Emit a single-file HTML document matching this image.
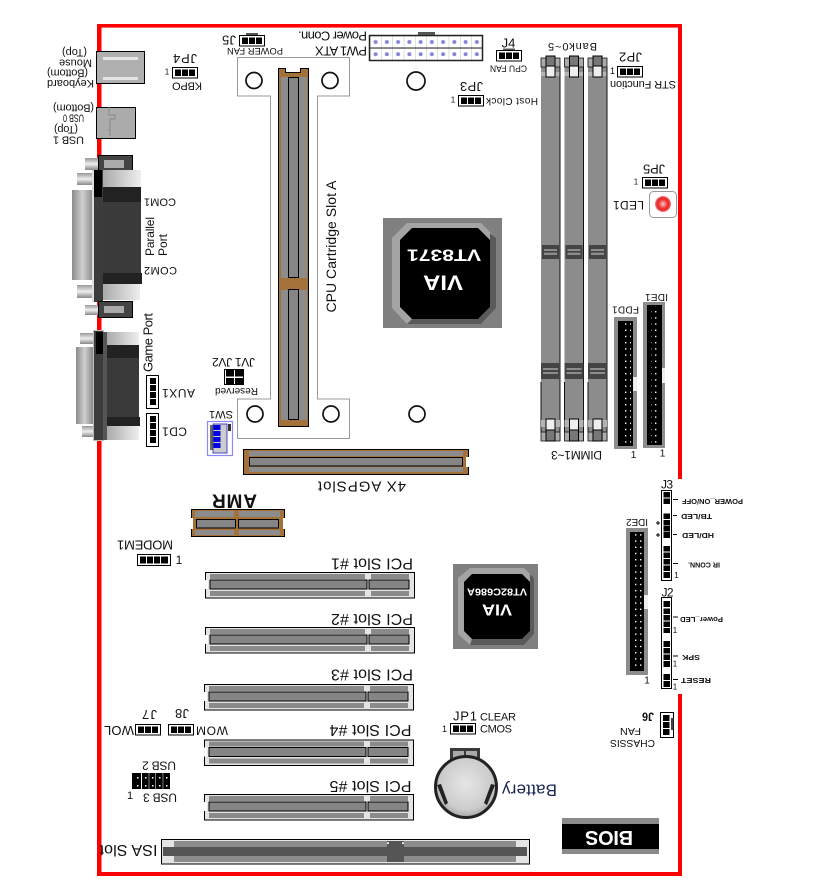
<!DOCTYPE html>
<html><head><meta charset="utf-8"><style>
html,body{margin:0;padding:0;background:#fff}
svg{display:block}
text{font-family:"Liberation Sans",sans-serif;text-anchor:middle;dominant-baseline:central;fill:#111;font-size:10px}
.f7{font-size:7px}.f8{font-size:8px}.f9{font-size:9px}.f10{font-size:10px}.f11{font-size:11px}.f12{font-size:12px}.f13{font-size:13px}.f14{font-size:14px}.f15{font-size:15px}.f16{font-size:16px}
.b{font-weight:bold}
</style></head><body>
<svg width="829" height="888" viewBox="0 0 829 888" xmlns="http://www.w3.org/2000/svg">
<defs>
<pattern id="dots" patternUnits="userSpaceOnUse" width="5" height="6.2"><rect x="0" y="1" width="1.4" height="1.4" fill="#fff"/></pattern>
<pattern id="pw" patternUnits="userSpaceOnUse" x="370" y="36" width="11.25" height="12.2"><rect width="11.25" height="12.2" fill="#fff"/><circle cx="5.6" cy="6" r="2" fill="#8585d8"/><path d="M0 0V12.2M0 0H11.25" stroke="#999" stroke-width=".6"/></pattern>
<linearGradient id="sh" x1="0" x2="1" y1="0" y2="0"><stop offset="0" stop-color="#8a8a8a"/><stop offset=".5" stop-color="#d0d0d0"/><stop offset="1" stop-color="#8a8a8a"/></linearGradient>
<linearGradient id="sc" x1="0" x2="0" y1="0" y2="1"><stop offset="0" stop-color="#999"/><stop offset=".5" stop-color="#eee"/><stop offset="1" stop-color="#888"/></linearGradient>
<linearGradient id="lt" x1="0" x2="1" y1="0" y2="0"><stop offset="0" stop-color="#aaa"/><stop offset="1" stop-color="#eee"/></linearGradient>
<radialGradient id="bat" cx=".5" cy=".45" r=".6"><stop offset="0" stop-color="#e6e6e6"/><stop offset=".7" stop-color="#ccc"/><stop offset="1" stop-color="#999"/></radialGradient>
<radialGradient id="led" cx=".5" cy=".5" r=".5"><stop offset="0" stop-color="#ffc8c8"/><stop offset=".45" stop-color="#f05050"/><stop offset=".7" stop-color="#e82020"/><stop offset="1" stop-color="#f08080"/></radialGradient>
<g id="j3"><rect x=".5" y=".5" width="25" height="10.5" fill="#fff" stroke="#000"/><rect x="3" y="2.5" width="6" height="6.5"/><rect x="10" y="2.5" width="6" height="6.5"/><rect x="17" y="2.5" width="6" height="6.5"/></g>
<g id="pci"><rect x=".5" y=".5" width="209" height="25.5" fill="#e4e4e4" stroke="#000"/><rect x="5" y="2" width="155" height="5" fill="#8a8a8a"/><rect x="166" y="2" width="38" height="5" fill="#8a8a8a"/><rect x="5" y="19" width="155" height="5" fill="#8a8a8a"/><rect x="166" y="19" width="38" height="5" fill="#8a8a8a"/><rect x="5" y="8" width="157" height="9" fill="#858585" stroke="#000"/><rect x="164" y="8" width="40" height="9" fill="#858585" stroke="#000"/><rect x="0" y="8" width="3" height="9" fill="#fff"/></g>
<g id="dimm"><rect x="0" y="11" width="19" height="374" fill="#8c8c8c"/><rect x="0" y="16" width="19" height="4" fill="#b4b4b4"/><path d="M19 11V385" stroke="#111" stroke-width="1"/><rect x="0" y="2" width="19" height="9" fill="#aaa" stroke="#111" stroke-width=".8"/><rect x="5" y="0" width="9" height="10" fill="#777" stroke="#000"/><rect x="5" y="10" width="9" height="11" fill="#eee" stroke="#000"/><g fill="#444"><rect x="1" y="189" width="17" height="4"/><rect x="1" y="199" width="17" height="4"/><rect x="1" y="193" width="2" height="6"/><rect x="16" y="193" width="2" height="6"/><rect x="3" y="195" width="14" height="1.6"/></g><g fill="#444"><rect x="1" y="307" width="17" height="5"/><rect x="1" y="318" width="17" height="5"/><rect x="0" y="307" width="2" height="16"/><rect x="17" y="307" width="2" height="16"/><rect x="2" y="314" width="15" height="2"/></g><path d="M0 326V376M19 326V376" stroke="#111"/><rect x="0" y="364" width="19" height="7" fill="#b4b4b4"/><rect x="0" y="376" width="19" height="9" fill="#aaa" stroke="#111" stroke-width=".8"/><rect x="5" y="363" width="9" height="11" fill="#eee" stroke="#000"/><rect x="5" y="374" width="9" height="11" fill="#777" stroke="#000"/></g>
</defs>
<rect width="829" height="888" fill="#fff"/>

<!-- board outline -->
<g fill="#f00">
<rect x="97" y="24" width="585" height="3.6"/>
<rect x="97" y="872" width="585" height="4"/>
<rect x="97" y="24" width="4.5" height="852"/>
<rect x="678" y="24" width="4" height="455"/>
<rect x="678" y="694" width="4" height="182"/>
</g>

<!-- keyboard / usb -->
<rect x="96.500" y="51.500" width="48" height="32" fill="#b0b0b0" stroke="#000"/>
<rect x="103" y="57" width="35" height="3" fill="#e4e4e4"/><rect x="103" y="77" width="35" height="3" fill="#e4e4e4"/>
<rect x="96.500" y="107.500" width="39" height="31" fill="#ababab" stroke="#000"/>
<path d="M109 107V115H115V119H110V130H108M108 130H110V136" fill="none" stroke="#888"/>

<text class="f11" transform="translate(70.500 83)rotate(180)" textLength="47">Keyboard</text>
<text class="f11" transform="translate(67.500 72.500)rotate(180)" textLength="41">(Bottom)</text>
<text class="f11" transform="translate(75.500 62.500)rotate(180)" textLength="33">Mouse</text>
<text class="f11" transform="translate(74.500 52)rotate(180)" textLength="25">(Top)</text>
<text class="f11" transform="translate(73.500 107.500)rotate(180)" textLength="41">(Bottom)</text>
<text class="f11" transform="translate(73.500 117.500)rotate(180)" textLength="21" lengthAdjust="spacingAndGlyphs">USB 0</text>
<text class="f11" transform="translate(66 129)rotate(180)" textLength="24">(Top)</text>
<text class="f11" transform="translate(68.500 139.500)rotate(180)" textLength="31">USB 1</text>

<!-- COM connector -->
<rect x="72" y="190" width="21" height="90" fill="url(#sh)"/>
<rect x="85" y="158" width="13" height="12" fill="url(#sc)"/>
<rect x="77" y="173" width="15" height="12" fill="url(#sc)"/>
<rect x="98.500" y="155.500" width="34" height="17" fill="#444" stroke="#000"/>
<rect x="104" y="160" width="20" height="8" fill="#aaa"/>
<rect x="92" y="170" width="11" height="132" fill="#3c3c3c"/>
<rect x="92" y="170" width="2" height="132" fill="#ddd"/>
<rect x="94" y="170" width="8" height="27" fill="#000"/>
<rect x="103" y="170" width="38" height="17" fill="url(#lt)"/>
<rect x="103" y="187" width="38" height="15" fill="#222"/>
<rect x="103" y="202" width="38" height="71" fill="#3a3a3a"/>
<rect x="103" y="273" width="39" height="11" fill="#222"/>
<rect x="103" y="284" width="37" height="16" fill="url(#lt)"/>
<rect x="77" y="285" width="15" height="13" fill="url(#sc)"/>
<rect x="85" y="305" width="13" height="10" fill="url(#sc)"/>
<rect x="98.500" y="301.500" width="34" height="16" fill="#444" stroke="#000"/>
<rect x="104" y="306" width="20" height="7" fill="#aaa"/>

<text class="f11" transform="translate(160 201.500)rotate(180)" textLength="32">COM1</text>
<text class="f11" transform="translate(160.500 270)rotate(180)" textLength="33">COM2</text>
<text class="f12" transform="translate(150 236.500)rotate(-90)" textLength="39">Parallel</text>
<text class="f12" transform="translate(163 245)rotate(-90)" textLength="22">Port</text>

<!-- Game port -->
<rect x="76" y="347" width="17" height="77" fill="url(#sh)"/>
<rect x="80" y="333" width="13" height="11" fill="url(#sc)"/>
<rect x="82" y="426" width="11" height="11" fill="url(#sc)"/>
<rect x="93.500" y="330.500" width="10" height="110" fill="#3c3c3c" stroke="#bbb"/>
<rect x="96" y="332" width="7" height="22" fill="#000"/>
<rect x="107" y="332" width="32" height="13" fill="url(#lt)"/>
<rect x="103" y="332" width="4" height="108" fill="#555"/>
<rect x="107" y="345" width="32" height="13" fill="#222"/>
<rect x="107" y="358" width="32" height="59" fill="#3a3a3a"/>
<rect x="107" y="417" width="33" height="9" fill="#222"/>
<rect x="107" y="426" width="32" height="14" fill="url(#lt)"/>
<text class="f13" transform="translate(148 342.500)rotate(-90)" textLength="59">Game Port</text>

<!-- AUX1 CD1 -->
<rect x="146.500" y="375.500" width="12" height="33" fill="#fff" stroke="#000"/>
<g fill="#000"><rect x="150" y="378" width="6" height="6"/><rect x="150" y="385" width="6" height="6"/><rect x="150" y="392" width="6" height="6"/><rect x="150" y="399" width="6" height="6"/></g>
<rect x="146.500" y="413.500" width="12" height="33" fill="#fff" stroke="#000"/>
<g fill="#000"><rect x="150" y="416" width="6" height="6"/><rect x="150" y="423" width="6" height="6"/><rect x="150" y="430" width="6" height="6"/><rect x="150" y="437" width="6" height="6"/></g>
<text class="f12" transform="translate(178.500 393)rotate(180)" textLength="33">AUX1</text>
<text class="f12" transform="translate(174.500 431.500)rotate(180)" textLength="25">CD1</text>

<!-- CPU bracket -->
<path d="M237.500 57.500H349.500V96H317.500V399H349.500V438.500H237.500V399H270.500V96H237.500Z" fill="#fff" stroke="#999" stroke-width="1"/>
<g fill="none" stroke="#111" stroke-width="1.700"><circle cx="254" cy="80.500" r="8"/><circle cx="330" cy="80.500" r="8"/><circle cx="416" cy="81" r="9"/><circle cx="255" cy="414" r="8"/><circle cx="331" cy="414" r="8"/><circle cx="417" cy="414" r="8"/></g>
<!-- CPU slot -->
<path d="M278.500 68.500H285.500V72.500H300.500V68.500H308.500V426.500H278.500Z" fill="#a4713a" stroke="#000"/>
<rect x="281" y="77" width="26" height="343" fill="#8c8c8c"/>
<rect x="281" y="278" width="26" height="12" fill="#a4713a"/>
<rect x="288.500" y="77.500" width="10" height="200" fill="#858585" stroke="#000"/>
<rect x="288.500" y="289.500" width="10" height="130" fill="#858585" stroke="#000"/>
<text class="f14" transform="translate(331 246.500)rotate(-90)" textLength="132">CPU Cartridge Slot A</text>

<!-- J5 -->
<use href="#j3" x="239" y="35"/><rect x="246" y="33" width="12" height="2" fill="#555"/>
<text class="f13" transform="translate(229 40)rotate(180)" textLength="14">J5</text>
<text class="f9" transform="translate(255 51)rotate(180)" textLength="56" lengthAdjust="spacingAndGlyphs">POWER FAN</text>
<!-- JP4 -->
<use href="#j3" x="172" y="67"/>
<text class="f8" x="167" y="72">1</text>
<text class="f13" transform="translate(185 58.500)rotate(180)" textLength="24">JP4</text>
<text class="f11" transform="translate(187 85.500)rotate(180)" textLength="30">KBPO</text>

<!-- PW1 -->
<rect x="369.500" y="35.500" width="113" height="25" fill="url(#pw)" stroke="#222" stroke-width="1.500"/>
<path d="M370 48H483" stroke="#222"/>
<rect x="418" y="32" width="17" height="3" fill="#555"/>
<text class="f13" transform="translate(332.500 36)rotate(180)" textLength="69">Power Conn.</text>
<text class="f13" transform="translate(341 51)rotate(180)" textLength="52">PW1 ATX</text>

<!-- JP3 -->
<use href="#j3" x="458" y="95"/>
<text class="f8" x="453" y="100">1</text>
<text class="f13" transform="translate(471.500 86.500)rotate(180)" textLength="23">JP3</text>
<text class="f10" transform="translate(512 100.500)rotate(180)" textLength="52">Host Clock</text>
<!-- J4 -->
<use href="#j3" x="496" y="50"/><rect x="503" y="48.500" width="12" height="1.500" fill="#555"/>
<text class="f13" x="508.500" y="43">J4</text>
<text class="f9" transform="translate(508.500 68.500)rotate(180)" textLength="37" lengthAdjust="spacingAndGlyphs">CPU FAN</text>

<!-- DIMM -->
<text class="f11" transform="translate(572.500 46)rotate(180)" textLength="49">Bank0~5</text>
<use href="#dimm" x="541" y="56"/><use href="#dimm" x="564.500" y="56"/><use href="#dimm" x="588" y="56"/>
<text class="f12" transform="translate(576.500 455)rotate(180)" textLength="51">DIMM1~3</text>

<!-- JP2 / JP5 / LED -->
<use href="#j3" x="617" y="66"/>
<text class="f9" x="612.500" y="71">1</text>
<text class="f13" transform="translate(630.500 57)rotate(180)" textLength="23">JP2</text>
<text class="f11" transform="translate(643 84)rotate(180)" textLength="66">STR Function</text>
<use href="#j3" x="642" y="177"/>
<text class="f8" x="636" y="182">1</text>
<text class="f13" transform="translate(654 169)rotate(180)" textLength="22">JP5</text>
<rect x="649.500" y="191.500" width="27" height="26" rx="4" fill="#fff" stroke="#999"/>
<circle cx="663" cy="204" r="8" fill="url(#led)"/>
<text class="f12" transform="translate(628.500 205)rotate(180)" textLength="31">LED1</text>

<!-- VT8371 -->
<rect x="383" y="218" width="119" height="110" fill="#808080"/>
<path d="M407 223H481L496 238V308L481 324H407L392 308V238Z" fill="#a4a4a4"/>
<path d="M490 233L496 238V308L481 324H407L412 319H478L490 307Z" fill="#5a5a5a"/>
<path d="M412 228H478L490 240V307L478 319H412L400 307V240Z" fill="#000"/>
<text class="b" style="fill:#fff;font-size:21px" transform="translate(443 282)rotate(180)" textLength="40" lengthAdjust="spacingAndGlyphs">VIA</text>
<text class="b" style="fill:#fff;font-size:17px" transform="translate(444 255)rotate(180)" textLength="74" lengthAdjust="spacingAndGlyphs">VT8371</text>

<!-- FDD1 / IDE1 -->
<text class="f10" transform="translate(625.500 309)rotate(180)" textLength="27">FDD1</text>
<rect x="614" y="317" width="23" height="132" fill="#8c8c8c"/>
<rect x="618" y="321" width="15" height="125" fill="#000"/>
<rect x="622" y="322" width="9" height="123" fill="url(#dots)"/>
<rect x="633" y="377" width="4" height="14" fill="#eee"/>
<text class="f10" x="633.500" y="455.500">1</text>
<text class="f10" transform="translate(656.500 296.500)rotate(180)" textLength="23">IDE1</text>
<rect x="643" y="302" width="22" height="146" fill="#8c8c8c"/>
<rect x="647" y="305" width="15" height="140" fill="#000"/>
<rect x="651" y="306" width="9" height="138" fill="url(#dots)"/>
<rect x="662" y="368" width="3" height="15" fill="#eee"/>
<text class="f10" x="662.500" y="454">1</text>

<!-- JV1 -->
<text class="f12" transform="translate(233.500 362)rotate(180)" textLength="43">JV1 JV2</text>
<rect x="224.500" y="369.500" width="19" height="15" fill="#fff" stroke="#000"/>
<g fill="#000"><rect x="226" y="370" width="8" height="6.500"/><rect x="226" y="378" width="8" height="6"/><rect x="235" y="370" width="8" height="6.500"/><rect x="235" y="378" width="8" height="6"/></g>
<text class="f10" transform="translate(236.500 390.500)rotate(180)" textLength="43" lengthAdjust="spacingAndGlyphs">Reserved</text>

<!-- SW1 -->
<text class="f11" transform="translate(221 414)rotate(180)" textLength="24">SW1</text>
<rect x="207.500" y="421.500" width="25" height="34" fill="#fff" stroke="#8a8afa" stroke-width="1.200"/>
<rect x="213" y="424" width="14" height="29" fill="#ccc" stroke="#2222bb" stroke-width=".8"/>
<g fill="#0000e0"><rect x="213.500" y="425" width="7" height="5"/><rect x="213.500" y="431" width="7" height="5"/><rect x="213.500" y="437" width="7" height="5"/><rect x="213.500" y="443" width="7" height="5"/></g>
<rect x="210" y="425" width="3" height="25" fill="#333" opacity=".75"/>
<rect x="228" y="424" width="3" height="7" fill="#333"/>

<!-- AGP -->
<rect x="243.500" y="449.500" width="225" height="25" fill="#a4713a" stroke="#000"/>
<rect x="249" y="451" width="214" height="5" fill="#8c8c8c"/>
<rect x="249" y="467" width="214" height="5" fill="#8c8c8c"/>
<rect x="249.500" y="457.500" width="213" height="8.500" fill="#858585" stroke="#000"/>
<rect x="466" y="457" width="3" height="10" fill="#fff"/>
<text class="f15" transform="translate(362 486)rotate(180)" textLength="88">4X AGPSlot</text>

<!-- AMR -->
<text class="b" style="font-size:19px" transform="translate(234.500 500)rotate(180)" textLength="45">AMR</text>
<rect x="191.500" y="509.500" width="93" height="27" fill="#a4713a" stroke="#000"/>
<rect x="195" y="511" width="39" height="6" fill="#8c8c8c"/><rect x="239" y="511" width="41" height="6" fill="#8c8c8c"/>
<rect x="195" y="530" width="39" height="5" fill="#8c8c8c"/><rect x="239" y="530" width="41" height="5" fill="#8c8c8c"/>
<rect x="196.500" y="519.500" width="39" height="8.500" fill="#858585" stroke="#000"/>
<rect x="238.500" y="519.500" width="40" height="8.500" fill="#858585" stroke="#000"/>
<rect x="191" y="518" width="2" height="11" fill="#fff"/><rect x="283" y="518" width="2" height="11" fill="#fff"/>

<!-- MODEM1 -->
<text class="f13" transform="translate(145 545)rotate(180)" textLength="56">MODEM1</text>
<rect x="137.500" y="554.500" width="33" height="11" fill="#fff" stroke="#000"/>
<g fill="#000"><rect x="140" y="556.500" width="6" height="7"/><rect x="147" y="556.500" width="6" height="7"/><rect x="154" y="556.500" width="6" height="7"/><rect x="161" y="556.500" width="7" height="7"/></g>
<text class="f12" x="179" y="560">1</text>

<!-- PCI -->
<use href="#pci" x="205" y="572"/><use href="#pci" x="205" y="627"/><use href="#pci" x="204" y="684"/><use href="#pci" x="204" y="739.500"/><use href="#pci" x="204" y="794"/>
<text class="f16" transform="translate(372 563)rotate(180)" textLength="82">PCI Slot #1</text>
<text class="f16" transform="translate(372 618.500)rotate(180)" textLength="82">PCI Slot #2</text>
<text class="f16" transform="translate(372 674)rotate(180)" textLength="82">PCI Slot #3</text>
<text class="f16" transform="translate(370.500 729.500)rotate(180)" textLength="82">PCI Slot #4</text>
<text class="f16" transform="translate(370.500 785.500)rotate(180)" textLength="82">PCI Slot #5</text>

<!-- WOM / WOL -->
<text class="f12" transform="translate(212 730.500)rotate(180)" textLength="32">WOM</text>
<text class="f13" transform="translate(182 713.500)rotate(180)" textLength="14">J8</text>
<use href="#j3" x="168" y="724"/>
<text class="f13" transform="translate(149.500 714.500)rotate(180)" textLength="15">J7</text>
<use href="#j3" x="135" y="724"/>
<text class="f13" transform="translate(119 730.500)rotate(180)" textLength="30">WOL</text>

<!-- USB 2/3 -->
<text class="f12" transform="translate(159 765.500)rotate(180)" textLength="34">USB 2</text>
<rect x="132" y="773" width="38" height="16" fill="#000"/>
<g fill="#fff"><rect x="137" y="777" width="1.500" height="1.500"/><rect x="145" y="777" width="1.500" height="1.500"/><rect x="152" y="777" width="1.500" height="1.500"/><rect x="159" y="777" width="1.500" height="1.500"/><rect x="166" y="777" width="1.500" height="1.500"/><rect x="137" y="785" width="1.500" height="1.500"/><rect x="145" y="785" width="1.500" height="1.500"/><rect x="152" y="785" width="1.500" height="1.500"/><rect x="159" y="785" width="1.500" height="1.500"/><rect x="166" y="785" width="1.500" height="1.500"/><rect x="141" y="773" width="1" height="16"/><rect x="155" y="773" width="1" height="16" opacity=".5"/><rect x="162.500" y="773" width="1" height="16" opacity=".5"/><rect x="148.500" y="773" width="1" height="16" opacity=".5"/></g>
<text class="f12" transform="translate(160 797.500)rotate(180)" textLength="34">USB 3</text>
<text class="f11" x="130" y="796">1</text>

<!-- ISA -->
<text class="f16" transform="translate(128.500 849.500)rotate(180)" textLength="58">ISA Slot</text>
<rect x="161.500" y="839.500" width="368" height="24.500" fill="#e4e4e4" stroke="#000"/>
<rect x="174" y="841" width="342" height="21" fill="#8c8c8c"/>
<rect x="163" y="847" width="364" height="9" fill="#555"/>
<rect x="387" y="842" width="17" height="2.500" fill="#eee"/>
<rect x="389" y="841" width="13" height="21" fill="#555"/>
<rect x="387" y="841" width="17" height="1.200" fill="#555"/>
<rect x="387" y="844" width="17" height="3" fill="#555"/>
<rect x="387" y="856" width="17" height="6" fill="#555"/>

<!-- Battery -->
<rect x="450" y="748" width="30" height="20" fill="#3a3a3a"/>
<rect x="453" y="751" width="11" height="10" fill="#aaa"/><rect x="466" y="751" width="11" height="10" fill="#aaa"/>
<circle cx="466" cy="787" r="30.500" fill="url(#bat)" stroke="#222" stroke-width="3"/>
<path d="M437 785L445 805L448 803L441 784Z" fill="#222"/><path d="M495 785L487 805L484 803L491 784Z" fill="#222"/>
<text style="fill:#1a2650;font-size:17px" transform="translate(529.500 790)rotate(180)" textLength="55">Battery</text>

<!-- JP1 -->
<text class="f13" x="465" y="716" textLength="24">JP1</text>
<text class="f11" x="498" y="717.500" textLength="36">CLEAR</text>
<text class="f11" x="496" y="729.500" textLength="32">CMOS</text>
<use href="#j3" x="450" y="723"/>
<text class="f9" x="444.500" y="729">1</text>

<!-- VT82C686A -->
<rect x="453" y="564" width="85" height="85" fill="#808080"/>
<path d="M470 568H524L534 578V634L524 645H470L458 634V578Z" fill="#a4a4a4"/>
<path d="M530 574L534 578V634L524 645H470L472 639H522L530 631Z" fill="#5a5a5a"/>
<path d="M472 574H522L530 582V631L522 639H472L464 631V582Z" fill="#000"/>
<text class="b" style="fill:#fff;font-size:10px" transform="translate(497 591)rotate(180)" textLength="60" lengthAdjust="spacingAndGlyphs">VT82C686A</text>
<text class="b" style="fill:#fff;font-size:16px" transform="translate(497 609)rotate(180)" textLength="30" lengthAdjust="spacingAndGlyphs">VIA</text>

<!-- BIOS -->
<rect x="562" y="818" width="97" height="36" fill="#8a8a8a"/>
<rect x="562" y="824" width="97" height="25" fill="#000"/>
<text class="b" style="fill:#fff;font-size:20px" transform="translate(609 837)rotate(180)" textLength="48">BIOS</text>

<!-- IDE2 -->
<text class="f10" transform="translate(637 521.500)rotate(180)" textLength="22">IDE2</text>
<rect x="626" y="528" width="22" height="147" fill="#8c8c8c"/>
<rect x="630" y="532" width="14" height="139" fill="#000"/>
<rect x="634.500" y="533" width="9" height="137" fill="url(#dots)"/>
<rect x="644" y="595" width="4" height="14" fill="#eee"/>
<text class="f10" x="647" y="681">1</text>

<!-- J3 -->
<text class="f12" x="667" y="484.500" textLength="12">J3</text>
<rect x="661.500" y="490.500" width="10" height="90" fill="#fff" stroke="#000"/>
<g fill="#000"><rect x="663.500" y="492" width="6.500" height="5.500"/><rect x="663.500" y="498.500" width="6.500" height="5.500"/><rect x="663.500" y="513.500" width="6.500" height="5.500"/><rect x="663.500" y="520" width="6.500" height="5.500"/><rect x="663.500" y="526" width="6.500" height="5.500"/><rect x="663.500" y="532" width="6.500" height="6"/><rect x="663.500" y="546" width="6.500" height="5.500"/><rect x="663.500" y="552.500" width="6.500" height="5.500"/><rect x="663.500" y="559" width="6.500" height="5.500"/><rect x="663.500" y="565.500" width="6.500" height="5.500"/><rect x="663.500" y="572" width="6.500" height="6"/></g>
<g stroke="#000" fill="none"><path d="M673 499.500H678M673 515.500H677M673 534.500H677M673 563.500H678"/><path d="M656 523H660M658 521V525M656 535H660M658 533V537"/></g>
<text class="f7 b" transform="translate(712.500 500.500)rotate(180)" textLength="61" lengthAdjust="spacingAndGlyphs">POWER_ON/OFF</text>
<text class="f7 b" transform="translate(696.500 515.500)rotate(180)" textLength="31" lengthAdjust="spacingAndGlyphs">TB/LED</text>
<text class="f7 b" transform="translate(698 534.500)rotate(180)" textLength="32" lengthAdjust="spacingAndGlyphs">HD/LED</text>
<text class="f7 b" transform="translate(704 564)rotate(180)" textLength="32" lengthAdjust="spacingAndGlyphs">IR CONN.</text>
<text class="f8" x="676.500" y="575.500">1</text>

<!-- J2 -->
<text class="f12" x="667.500" y="592.500" textLength="12">J2</text>
<rect x="661.500" y="597.500" width="10" height="91" fill="#fff" stroke="#000"/>
<g fill="#000"><rect x="663.500" y="601" width="6.500" height="6"/><rect x="663.500" y="608.500" width="6.500" height="5.500"/><rect x="663.500" y="615" width="6.500" height="5.500"/><rect x="663.500" y="621.500" width="6.500" height="5.500"/><rect x="663.500" y="628" width="6.500" height="5"/><rect x="663.500" y="641" width="6.500" height="6"/><rect x="663.500" y="648" width="6.500" height="5.500"/><rect x="663.500" y="654.500" width="6.500" height="5.500"/><rect x="663.500" y="661" width="6.500" height="6"/><rect x="663.500" y="674" width="6.500" height="6"/><rect x="663.500" y="681" width="6.500" height="6"/></g>
<g stroke="#000" fill="none"><path d="M673 617H678M673 656H678M673 679.500H678"/></g>
<text class="f7 b" transform="translate(701.500 618.500)rotate(180)" textLength="43" lengthAdjust="spacingAndGlyphs">Power_LED</text>
<text class="f7 b" transform="translate(691 656.500)rotate(180)" textLength="18" lengthAdjust="spacingAndGlyphs">SPK</text>
<text class="f7 b" transform="translate(696 679.500)rotate(180)" textLength="30" lengthAdjust="spacingAndGlyphs">RESET</text>
<text class="f8" x="675" y="630.500">1</text>
<text class="f8" x="675" y="664">1</text>
<text class="f8" x="675" y="687">1</text>

<!-- J6 -->
<rect x="660.500" y="712.500" width="13" height="25" fill="#fff" stroke="#000"/>
<g fill="#000"><rect x="663" y="715" width="6.500" height="6"/><rect x="663" y="722" width="6.500" height="6"/><rect x="663" y="729" width="6.500" height="6"/></g>
<rect x="671" y="718" width="2.500" height="12" fill="#444"/>
<text class="f12 b" transform="translate(648 716.500)rotate(180)" textLength="12" lengthAdjust="spacingAndGlyphs">J6</text>
<text class="f10" transform="translate(630.500 730.500)rotate(180)" textLength="21" lengthAdjust="spacingAndGlyphs">FAN</text>
<text class="f10" transform="translate(632.500 742.500)rotate(180)" textLength="45" lengthAdjust="spacingAndGlyphs">CHASSIS</text>
</svg>
</body></html>
